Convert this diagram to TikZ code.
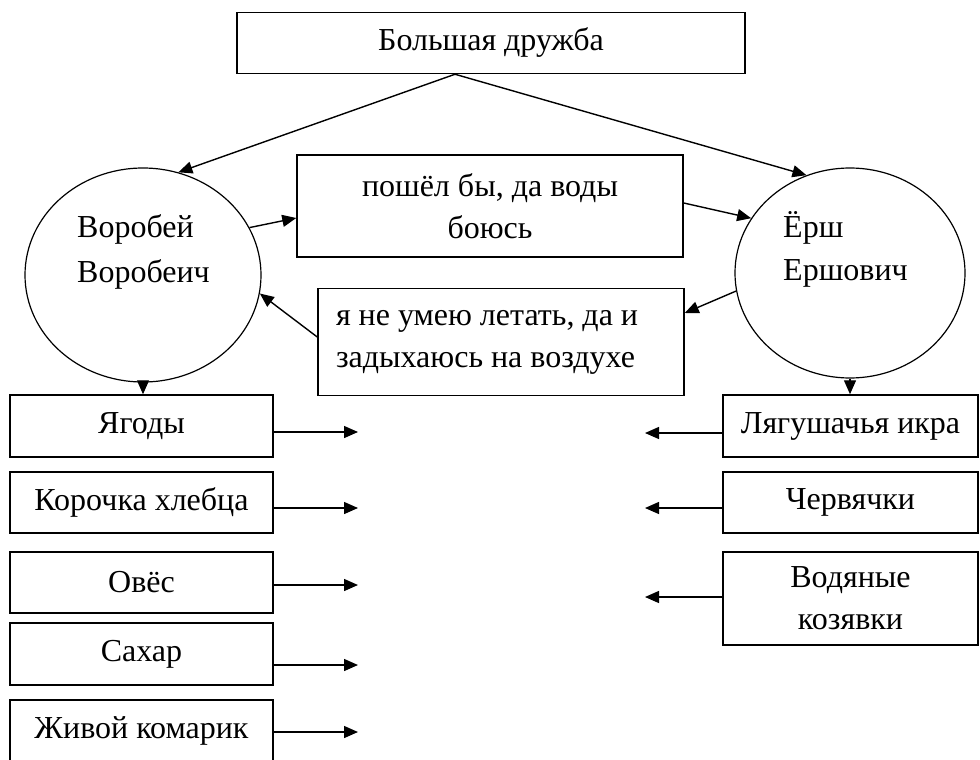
\documentclass[tikz,border=0pt]{standalone}
\usepackage{fontspec}
\setmainfont{Liberation Serif}
\usetikzlibrary{shapes.geometric,arrows.meta}
\begin{document}
\begin{tikzpicture}[x=1pt,y=-1pt,
  every node/.style={font=\fontsize{32}{42}\selectfont},
  box/.style={draw,line width=1.5pt,rectangle,inner sep=0pt,align=center},
  oval/.style={draw,line width=1.2pt,ellipse,inner sep=0pt},
  arr/.style={line width=1.4pt,-{Triangle[length=14pt,width=12pt]}},
  lbl/.style={anchor=base west,inner sep=0pt,align=left}]
\useasboundingbox[fill=white] (0,0) rectangle (980,760);
% title
\node[box,minimum width=508,minimum height=61] (T) at (491,43) {Большая дружба};
% circles
\node[oval,minimum width=236,minimum height=214] (L) at (143,275) {};
\node[oval,minimum width=230,minimum height=210] (R) at (850,273) {};
\node[lbl] (Lt) at (77,237) {Воробей};
\node[lbl] (Lt2) at (77,282) {Воробеич};
\node[lbl] (Rt) at (783,237) {Ёрш};
\node[lbl] (Rt2) at (783,280) {Ершович};
% middle boxes
\node[box,minimum width=386,minimum height=102] (B1) at (490,206) {пошёл бы, да воды\\боюсь};
\node[box,minimum width=366,minimum height=107,text width=330,align=flush left] (B2) at (501,342) {я не умею летать, да и\\задыхаюсь на воздухе};
% left column
\node[box,minimum width=263,minimum height=62] (F1) at (141.5,426) {Ягоды};
\node[box,minimum width=263,minimum height=61] (F2) at (141.5,502.5) {Корочка хлебца};
\node[box,minimum width=263,minimum height=61] (F3) at (141.5,582.5) {Овёс};
\node[box,minimum width=263,minimum height=62] (F4) at (141.5,654) {Сахар};
\node[box,minimum width=263,minimum height=62] (F5) at (141.5,731) {Живой комарик};
% right column
\node[box,minimum width=255,minimum height=62] (G1) at (850.5,426) {Лягушачья икра};
\node[box,minimum width=255,minimum height=61] (G2) at (850.5,502.5) {Червячки};
\node[box,minimum width=255,minimum height=93] (G3) at (850.5,598.5) {Водяные\\козявки};
% free ends
\coordinate (e1) at (358,432);
\coordinate (e2) at (358,508);
\coordinate (e3) at (358,585);
\coordinate (e4) at (358,665);
\coordinate (e5) at (358,732);
\coordinate (h1) at (645,433);
\coordinate (h2) at (645,508);
\coordinate (h3) at (645,597);
% connectors
\draw[arr] ([xshift=-36pt]T.south) -- (L.71);
\draw[arr] ([xshift=-36pt]T.south) -- (R.114);
\draw[arr] (L.24) -- ([yshift=-12pt]B1.west);
\draw[arr] ([yshift=3pt]B1.east) -- (R.151);
\draw[arr] (R.189) -- ([yshift=29pt]B2.east);
\draw[arr] ([yshift=5pt]B2.west) -- (L.-9);
\draw[arr] (L.south) -- (L.south |- F1.north);
\draw[arr] (R.south) -- (R.south |- G1.north);
\draw[arr] (F1.east |- e1) -- (e1);
\draw[arr] (F2.east |- e2) -- (e2);
\draw[arr] (F3.east |- e3) -- (e3);
\draw[arr] (F4.east |- e4) -- (e4);
\draw[arr] (F5.east |- e5) -- (e5);
\draw[arr] (G1.west |- h1) -- (h1);
\draw[arr] (G2.west |- h2) -- (h2);
\draw[arr] (G3.west |- h3) -- (h3);
\end{tikzpicture}
\end{document}
